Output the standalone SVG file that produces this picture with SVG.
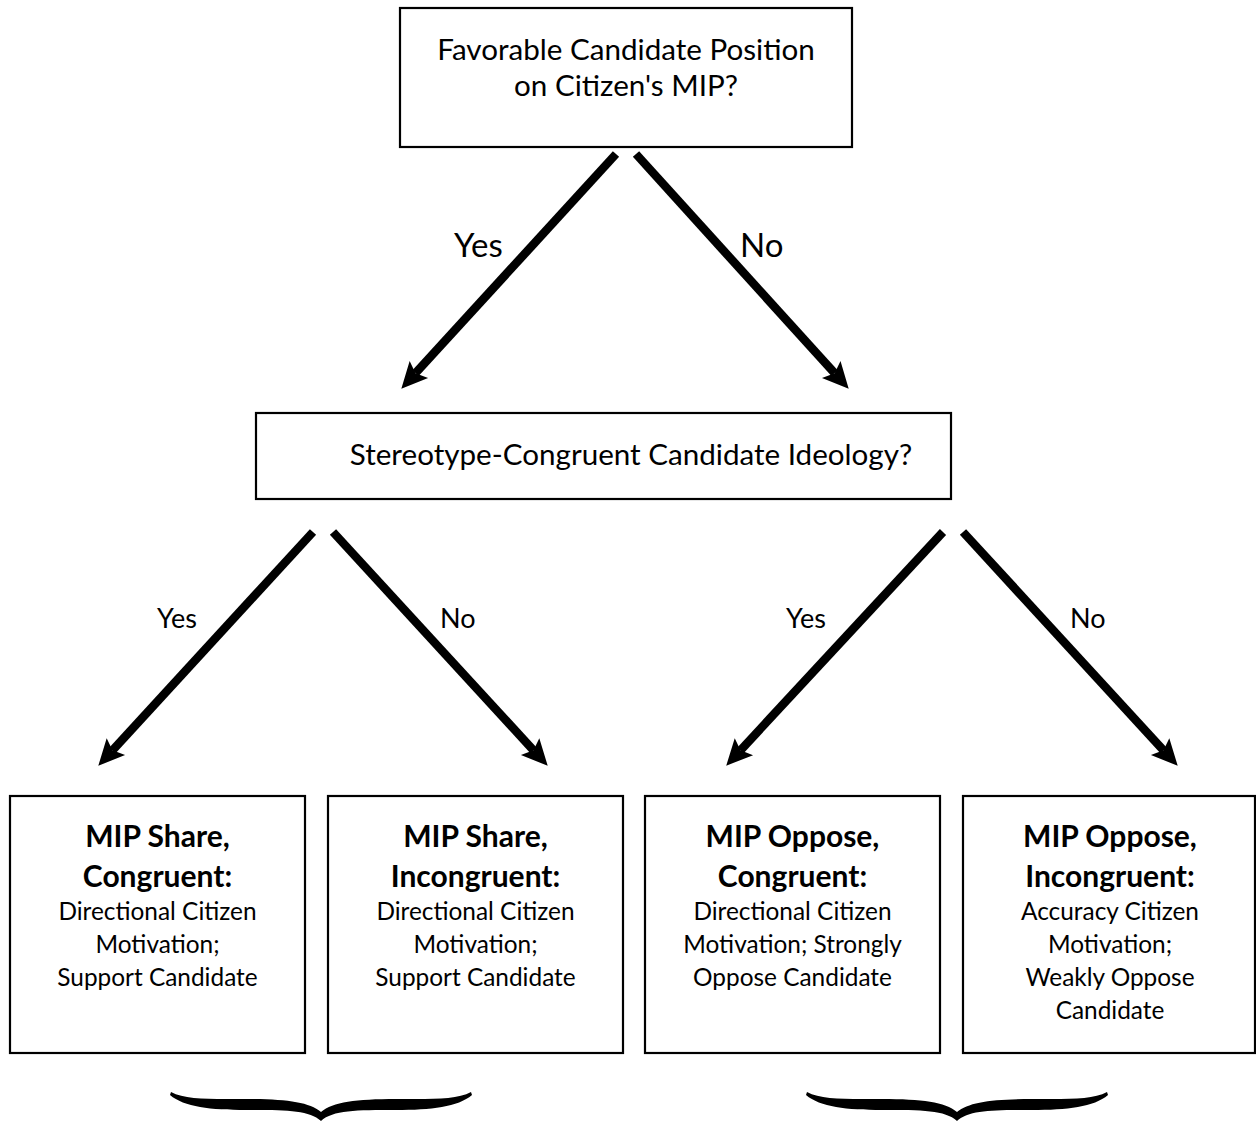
<svg xmlns="http://www.w3.org/2000/svg" width="1256" height="1122" viewBox="0 0 1256 1122">
<style>
.box{fill:#fff;stroke:#000;stroke-width:2.2}
text{font-family:Lato,"Open Sans","Liberation Sans",sans-serif;fill:#000}
.q{font-size:29.6px;text-anchor:middle}
.lbl1{font-size:33px}
.lbl2{font-size:27px}
.b{font-size:30px;font-weight:bold;text-anchor:middle}
.r{font-size:24.4px;text-anchor:middle}
.arrow{stroke:#000;stroke-width:8.5;fill:none;marker-end:url(#head)}
</style>
<defs>
<marker id="head" markerUnits="userSpaceOnUse" viewBox="-8 -14 30 28" refX="0" refY="0" markerWidth="30" markerHeight="28" orient="auto" overflow="visible">
<path d="M21,0 L-5,-12.5 L0,0 L-5,12.5 Z" fill="#000"/>
</marker>
<path id="brace" d="M-150,2 C-135,10 -110,9 -75,9 C-35,9 -12,12 0,22 C12,12 35,9 75,9 C110,9 135,10 150,2 L151,5 C137,17 110,20 75,20 C35,20 12,20 0,31 C-12,20 -35,20 -75,20 C-110,20 -137,17 -151,5 Z" fill="#000"/>
</defs>

<g id="q1">
<rect class="box" x="400" y="8" width="452" height="139"/>
<text class="q" x="626" y="60">Favorable Candidate Position</text>
<text class="q" x="626" y="96">on Citizen's MIP?</text>
</g>

<g id="q2">
<rect class="box" x="256" y="413" width="695" height="86"/>
<text class="q" x="631" y="465">Stereotype-Congruent Candidate Ideology?</text>
</g>

<g id="o1">
<rect class="box" x="10" y="796" width="295" height="257"/>
<text class="b" x="157.5" y="847">MIP Share,</text>
<text class="b" x="157.5" y="887">Congruent:</text>
<text class="r" x="157.5" y="920">Directional Citizen</text>
<text class="r" x="157.5" y="953">Motivation;</text>
<text class="r" x="157.5" y="986">Support Candidate</text>
</g>

<g id="o2">
<rect class="box" x="328" y="796" width="295" height="257"/>
<text class="b" x="475.5" y="847">MIP Share,</text>
<text class="b" x="475.5" y="887">Incongruent:</text>
<text class="r" x="475.5" y="920">Directional Citizen</text>
<text class="r" x="475.5" y="953">Motivation;</text>
<text class="r" x="475.5" y="986">Support Candidate</text>
</g>

<g id="o3">
<rect class="box" x="645" y="796" width="295" height="257"/>
<text class="b" x="792.5" y="847">MIP Oppose,</text>
<text class="b" x="792.5" y="887">Congruent:</text>
<text class="r" x="792.5" y="920">Directional Citizen</text>
<text class="r" x="792.5" y="953">Motivation; Strongly</text>
<text class="r" x="792.5" y="986">Oppose Candidate</text>
</g>

<g id="o4">
<rect class="box" x="963" y="796" width="292" height="257"/>
<text class="b" x="1110" y="847">MIP Oppose,</text>
<text class="b" x="1110" y="887">Incongruent:</text>
<text class="r" x="1110" y="920">Accuracy Citizen</text>
<text class="r" x="1110" y="953">Motivation;</text>
<text class="r" x="1110" y="986">Weakly Oppose</text>
<text class="r" x="1110" y="1019">Candidate</text>
</g>

<g id="connectors">
<line class="arrow" x1="616" y1="154" x2="415.5" y2="373.2"/>
<line class="arrow" x1="636" y1="154" x2="834.6" y2="373.2"/>
<line class="arrow" x1="313" y1="532" x2="112.5" y2="750.3"/>
<line class="arrow" x1="333" y1="532" x2="533.5" y2="750.3"/>
<line class="arrow" x1="943" y1="532" x2="740.5" y2="750.3"/>
<line class="arrow" x1="963" y1="532" x2="1163.5" y2="750.3"/>
<text class="lbl1" x="454" y="257">Yes</text>
<text class="lbl1" x="740" y="257">No</text>
<text class="lbl2" x="157" y="628">Yes</text>
<text class="lbl2" x="440" y="628">No</text>
<text class="lbl2" x="786" y="628">Yes</text>
<text class="lbl2" x="1070" y="628">No</text>
</g>

<g id="braces">
<use href="#brace" transform="translate(321,1090)"/>
<use href="#brace" transform="translate(957,1090)"/>
</g>
</svg>
